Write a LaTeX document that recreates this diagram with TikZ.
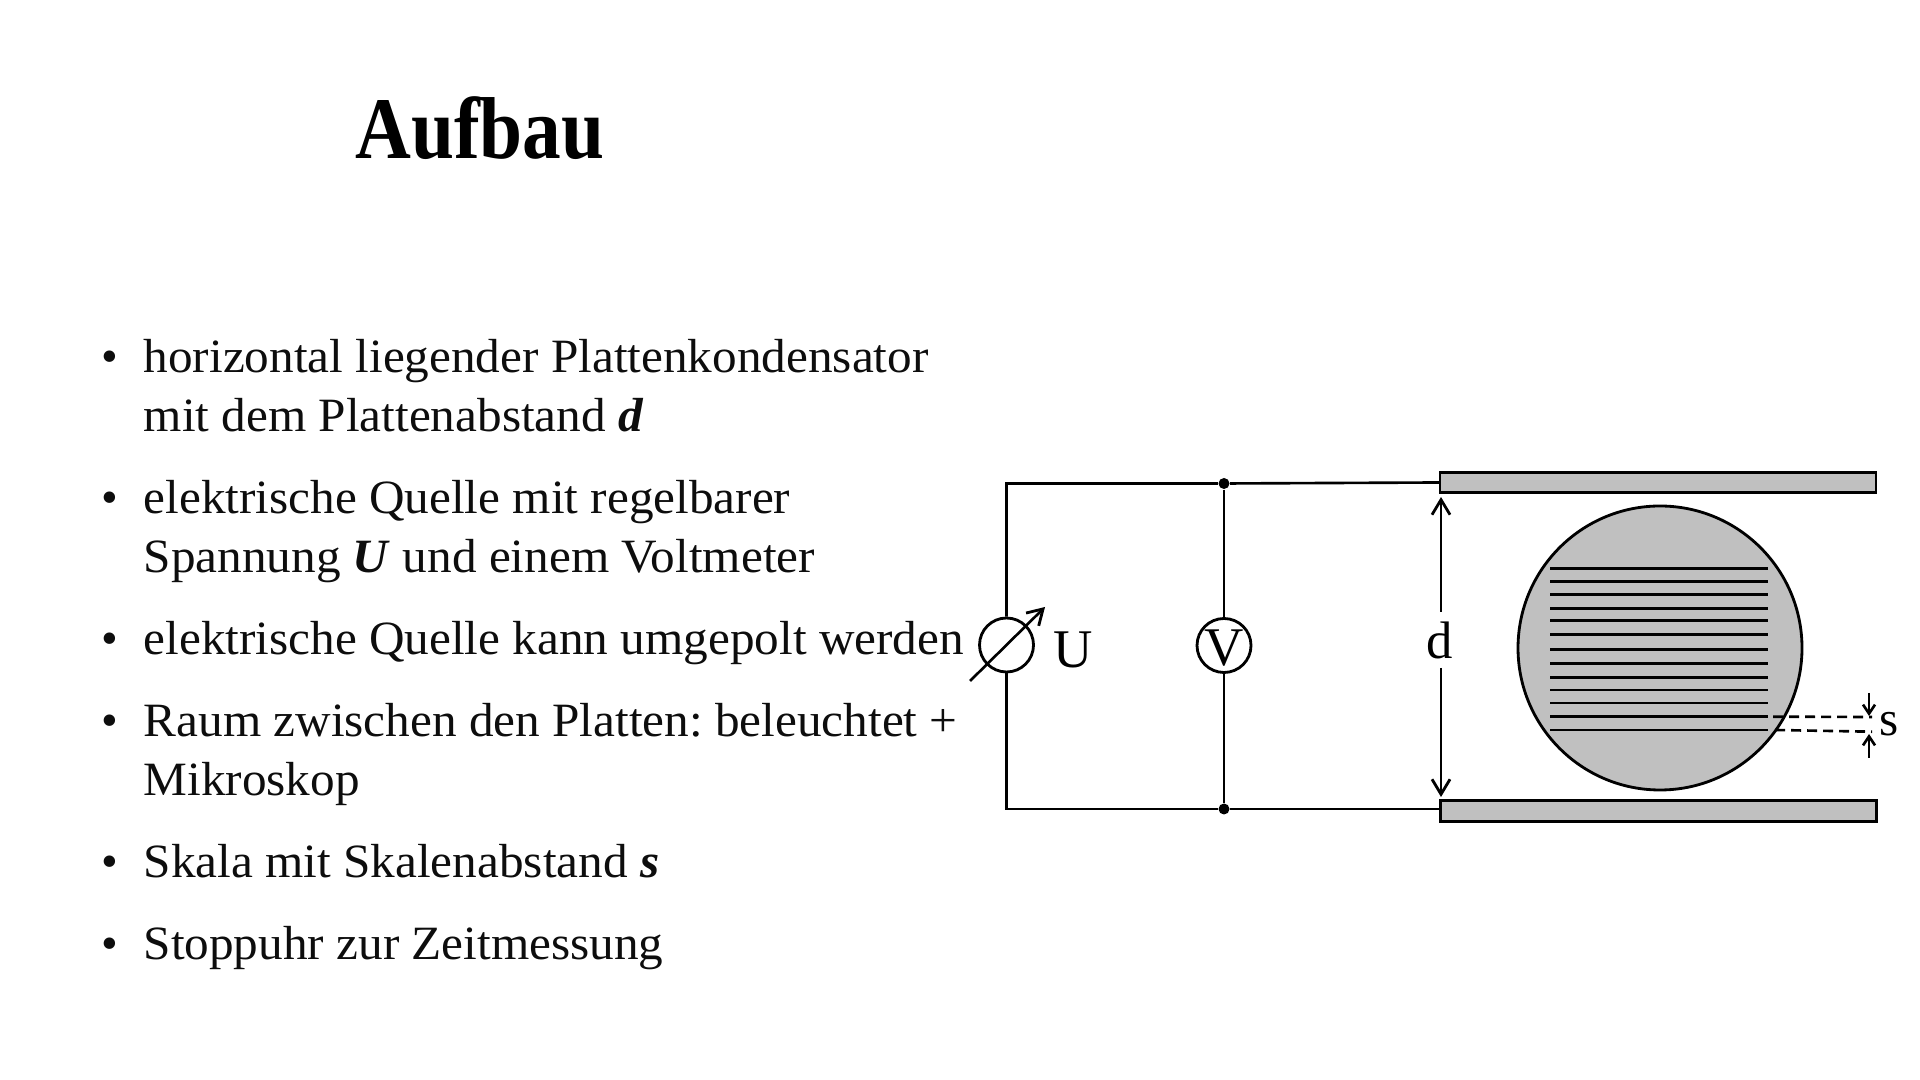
\documentclass[tikz,border=0pt]{standalone}
\usepackage{fontspec}
\setmainfont{Liberation Serif}
\newfontfamily\listfont[FakeStretch=1.03]{Liberation Serif}
\newfontfamily\titlefont[FakeStretch=0.88]{Liberation Serif}
\usetikzlibrary{
		calc,
		positioning,
		arrows.meta
	}
\definecolor{platte}{RGB}{192,192,192}
\tikzset{
		>={Straight Barb[length=1.5mm,width=1.8mm,line width=0.8pt]},
		wire/.style={line width=0.75pt, black},
		item/.style={anchor=base west, inner sep=0pt, text=black!95, font=\listfont\frenchspacing\fontsize{13.6}{16.8}\selectfont},
		punkt/.style={anchor=base, inner sep=0pt, text=black!95, font=\fontsize{13.6}{16.8}\selectfont},
		meter/.style={circle, draw, line width=0.8pt, fill=white, inner sep=0pt, minimum size=5.4mm},
		plate/.style={rectangle, draw, line width=0.8pt, fill=platte, inner sep=0pt, minimum width=43.6mm, minimum height=2.05mm},
		dot/.style={circle, fill=black, inner sep=0pt, minimum size=1.1mm},
		label/.style={inner sep=0pt, font=\fontsize{15.5}{18}\selectfont}
	}
\begin{document}
\begin{tikzpicture}
		\useasboundingbox (0mm,0mm) rectangle (192mm,108mm);
		% title
		\node[anchor=base, inner sep=0pt, font=\titlefont\fontsize{25}{30}\selectfont\bfseries] (title) at (48mm, 92.1mm) {Aufbau};
		% list
		\foreach \name/\ypos in {a/70.7, b/56.6, c/42.5, d/34.3, e/20.2, f/12.0} {
			\node[punkt] (bullet\name) at (10.95mm, \ypos mm) {\textbullet};
		}
		\node[item] (l1) at (14.3mm, 70.7mm) {horizontal liegender Plattenkondensator};
		\node[item] (l2) at (14.3mm, 64.8mm) {mit dem Plattenabstand \textbf{\textit{d}}};
		\node[item] (l3) at (14.3mm, 56.6mm) {elektrische Quelle mit regelbarer};
		\node[item] (l4) at (14.3mm, 50.7mm) {Spannung \textbf{\textit{U}} und einem Voltmeter};
		\node[item] (l5) at (14.3mm, 42.5mm) {elektrische Quelle kann umgepolt werden};
		\node[item] (l6) at (14.3mm, 34.3mm) {Raum zwischen den Platten: beleuchtet +};
		\node[item] (l7) at (14.3mm, 28.4mm) {Mikroskop};
		\node[item] (l8) at (14.3mm, 20.2mm) {Skala mit Skalenabstand \textbf{\textit{s}}};
		\node[item] (l9) at (14.3mm, 12.0mm) {Stoppuhr zur Zeitmessung};
		% plates and screen
		\node[plate] (plateTop) at (165.8mm, 59.75mm) {};
		\node[plate] (plateBot) at (165.85mm, 26.9mm) {};
		\node[circle, draw, line width=0.8pt, fill=platte, inner sep=0pt, minimum size=28.4mm] (screen) at (166mm, 43.2mm) {};
		\foreach \ypos in {51.17, 49.87, 48.57, 47.17, 45.97, 44.53, 43.07, 41.67, 40.27, 39, 37.7, 36.33, 35} {
			\draw[line width=0.8pt] (155mm, \ypos mm) -- (176.8mm, \ypos mm);
		}
		% circuit
		\node[meter] (source) at (100.65mm, 43.5mm) {};
		\node[meter] (volt) at (122.4mm, 43.45mm) {};
		\node[label] (labelV) at (122.4mm, 43.15mm) {V};
		\node[dot] (topJ) at (122.4mm, 59.65mm) {};
		\node[dot] (botJ) at (122.4mm, 27.1mm) {};
		\coordinate (cornerT) at (100.65mm, 59.65mm);
		\coordinate (cornerB) at (100.65mm, 27.1mm);
		\coordinate (plateTopIn) at (144mm, 59.75mm);
		\coordinate (plateBotIn) at (144.05mm, 27.1mm);
		\draw[wire] (source) -- (cornerT) -- (topJ) -- (plateTopIn);
		\draw[wire] (source) -- (cornerB) -- (botJ) -- (plateBotIn);
		\draw[wire] (topJ) -- (volt);
		\draw[wire] (botJ) -- (volt);
		\coordinate (knobA) at (97mm, 39.9mm);
		\coordinate (knobB) at (104.5mm, 47.3mm);
		\draw[wire, ->] (knobA) -- (knobB);
		\node[label] (labelU) at (107.3mm, 43mm) {U};
		% distance d
		\node[label, font=\fontsize{15}{18}\selectfont] (labelD) at (144mm, 44mm) {d};
		\coordinate (dTop) at (144.1mm, 58.3mm);
		\coordinate (dBot) at (144.1mm, 28.3mm);
		\draw[wire, ->] (144.1mm, 46.8mm) -- (dTop);
		\draw[wire, ->] (144.1mm, 41.2mm) -- (dBot);
		% distance s
		\coordinate (sTopA) at (177.3mm, 36.33mm);
		\coordinate (sTopB) at (187.2mm, 36.3mm);
		\coordinate (sBotA) at (177.5mm, 35mm);
		\coordinate (sBotB) at (187.2mm, 34.83mm);
		\draw[wire, dash pattern=on 1mm off 0.6mm] (sTopA) -- (sTopB);
		\draw[wire, dash pattern=on 1mm off 0.6mm] (sBotA) -- (sBotB);
		\coordinate (sArrA) at (186.9mm, 38.7mm);
		\coordinate (sArrB) at (186.9mm, 36.4mm);
		\coordinate (sArrC) at (186.9mm, 32.2mm);
		\coordinate (sArrD) at (186.9mm, 34.6mm);
		\draw[wire, -{Straight Barb[length=0.9mm,width=1.2mm]}] (sArrA) -- (sArrB);
		\draw[wire, -{Straight Barb[length=0.9mm,width=1.2mm]}] (sArrC) -- (sArrD);
		\node[label, font=\fontsize{14}{18}\selectfont] (labelS) at (188.9mm, 35.6mm) {s};
	\end{tikzpicture}
\end{document}
